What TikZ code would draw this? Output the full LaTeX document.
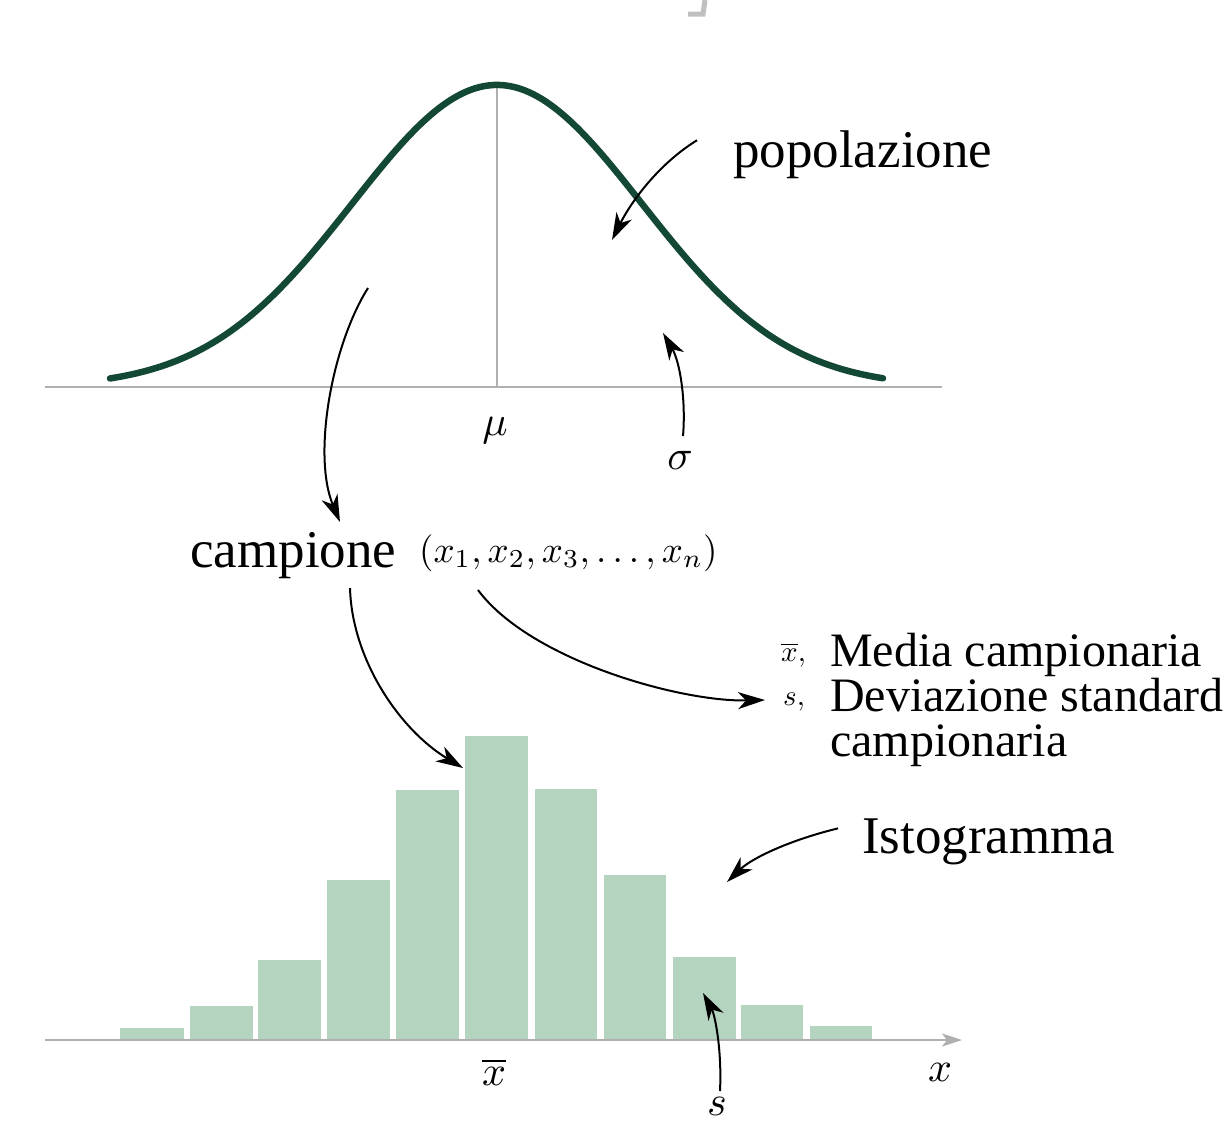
\documentclass[tikz,border=0pt]{standalone}
\usepackage{graphicx}
\usepackage{fontspec}
\setmainfont{Liberation Serif}
\usetikzlibrary{arrows.meta}
\definecolor{curvegreen}{RGB}{18,72,52}
\definecolor{barfill}{RGB}{180,212,192}
\definecolor{axisgray}{RGB}{175,175,175}
\newcommand{\mbig}[1]{\scalebox{4.2}{$#1$}}
\newcommand{\mtuple}[1]{\scalebox{3.7}{$#1$}}
\newcommand{\msmall}[1]{\scalebox{2.9}{$#1$}}
\begin{document}
\begin{tikzpicture}[x=1pt,y=-1pt,
  lbl/.style={inner sep=0pt, font=\fontsize{53}{60}\selectfont},
  statlbl/.style={inner sep=0pt, font=\fontsize{48}{45}\selectfont},
  mathlbl/.style={inner sep=0pt},
  conn/.style={line width=2pt, -{Stealth[length=27pt,width=17pt,inset=8pt]}},
  axisline/.style={axisgray, line width=2pt},
  bar/.style={fill=barfill, draw=none}]
\useasboundingbox (0,0) rectangle (1228,1122);
\fill[white] (0,0) rectangle (1228,1122);
% faint fragment at top
\draw[axisgray!80, line width=5pt] (705,0) -- (703,14) -- (688,14);
% top axis and mean line
\draw[axisline] (45,387) -- (942,387);
\draw[axisgray, line width=1.5pt] (497,85) -- (497,387);
% gaussian
\draw[curvegreen, line width=6.5pt, line cap=round] plot[domain=110:883, samples=160, smooth]
  (\x, {387 - 302*exp(-0.5*((\x-497)/145)^2)});
% labels top
\node[mathlbl] (mu) at (495,431) {\mbig{\mu}};
\node[mathlbl] (sigma) at (680,460) {\mbig{\sigma}};
\node[lbl, anchor=base west] (pop) at (733,167) {popolazione};
\coordinate (popTip) at (612,240);
\coordinate (sigTip) at (663,333);
\coordinate (curveStart) at (368,288);
\draw[conn] (pop.west) ++(-36,-14) coordinate (popStart) .. controls (660,163) and (632,200) .. (popTip);
\draw[conn] (683,436) coordinate (sigStart) .. controls (686,400) and (680,362) .. (sigTip);
% sample
\node[lbl, anchor=base west] (camp) at (190,567) {campione};
\node[mathlbl, anchor=base west] (sample) at (419,562) {\mtuple{(x_1, x_2, x_3,\ldots, x_n)}};
\draw[conn] (curveStart) .. controls (332,345) and (312,455) .. (340,522);
% statistics
\node[statlbl, anchor=base west] (med) at (830,666) {Media campionaria};
\node[statlbl, anchor=base west] (dev) at (830,711) {Deviazione standard};
\node[statlbl, anchor=base west] (dev2) at (830,756) {campionaria};
\node[mathlbl, anchor=base west] (xbarc) at (781,661) {\msmall{\overline{x},}};
\node[mathlbl, anchor=base west] (sc) at (783,705) {\msmall{s,}};
% histogram
\draw[axisline, -{Stealth[length=20pt,width=13pt,inset=5pt]}] (45,1040) -- (962,1040);
\foreach \l/\r/\t in {120/184/1028, 190/253/1006, 258/321/960, 327/390/880, 396/459/790, 465/528/736, 535/597/789, 604/666/875, 673/736/957, 741/803/1005, 810/872/1026}
  \fill[barfill] (\l,\t) rectangle (\r,1039);
\node[mathlbl] (xbar) at (494,1072) {\mbig{\overline{x}}};
\node[mathlbl] (xax) at (940,1072) {\mbig{x}};
\node[mathlbl] (sl) at (717,1106) {\mbig{s}};
\node[lbl, anchor=base west] (isto) at (862,853) {Istogramma};
\coordinate (histTip) at (463,768);
\coordinate (statTip) at (765,700);
\coordinate (istoTip) at (727,882);
\coordinate (sTip) at (703,993);
\draw[conn] (350,588) .. controls (352,660) and (400,730) .. (histTip);
\draw[conn] (478,590) .. controls (530,660) and (680,702) .. (statTip);
\draw[conn] (isto.west) ++(-24,-13) coordinate (istoStart) .. controls (790,840) and (752,858) .. (istoTip);
\draw[conn] (720,1091) coordinate (sStart) .. controls (722,1050) and (715,1015) .. (sTip);
\end{tikzpicture}
\end{document}
